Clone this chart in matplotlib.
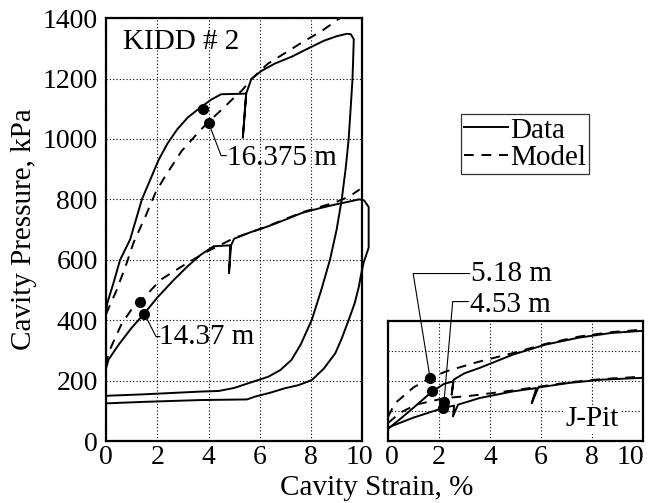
import matplotlib
matplotlib.use("Agg")
import matplotlib.pyplot as plt
import matplotlib.transforms as mtransforms

plt.rcParams['font.family'] = ['Liberation Serif', 'DejaVu Serif']

# KIDD # 2, 16.375 m
k16_data_x = [0, 0.05, 0.29, 0.55, 0.94, 1.4, 1.7, 2.06, 2.4, 2.78, 3.2, 3.7, 4.1, 4.49, 5.47,
              5.34, 5.47, 5.67, 6.06, 6.6, 7.24, 7.9, 8.5, 9.0, 9.4, 9.55, 9.67, 9.62, 9.47,
              9.35, 9.2, 9.0, 8.74, 8.4, 8.03, 7.6, 7.24, 6.8, 6.33, 5.93, 5.0, 4.4, 3.7, 1.5, 0]
k16_data_y = [420, 457, 523, 600, 667, 800, 860, 932, 985, 1032, 1072, 1105, 1130, 1148, 1150,
              1005, 1150, 1198, 1225, 1250, 1272, 1300, 1325, 1340, 1348, 1347, 1330, 1198, 1000,
              900, 800, 700, 600, 500, 401, 320, 269, 235, 213, 202, 176, 166, 164, 155, 150]
k16_model_x = [0, 0.42, 0.81, 1.07, 1.54, 1.93, 2.26, 2.95, 3.5, 3.96, 4.49, 5.0, 5.3, 5.67,
               6.33, 7.0, 7.64, 8.43, 9.08, 9.3]
k16_model_y = [420, 501, 590, 656, 744, 822, 870, 960, 1012, 1054, 1095, 1137, 1160, 1198,
               1250, 1285, 1319, 1358, 1397, 1410]

# KIDD # 2, 14.37 m
k14_data_x = [0, 0.1, 0.5, 1.0, 1.47, 2.0, 2.65, 3.2, 3.7, 4.2, 4.85, 4.8, 4.88, 5.0, 5.6, 6.33,
              7.0, 7.64, 8.3, 8.94, 9.5, 9.87, 10.07, 10.25, 10.25, 10.05, 9.95, 9.87, 9.7, 9.47,
              9.2, 8.95, 8.5, 8.03, 7.5, 6.98, 6.4, 5.8, 5.5, 3.7, 1.5, 0]
k14_data_y = [240, 270, 320, 375, 420, 475, 534, 580, 617, 645, 648, 556, 648, 670, 690, 711,
              733, 755, 770, 783, 793, 800, 797, 775, 640, 590, 550, 512, 455, 401, 340, 291,
              240, 202, 185, 175, 160, 147, 138, 136, 130, 125]
k14_model_x = [0, 0.09, 0.29, 0.62, 1.08, 1.34, 2.13, 3.18, 4.0, 5.0, 6.33, 7.64, 8.94, 9.5, 9.9]
k14_model_y = [250, 290, 329, 390, 446, 462, 534, 590, 630, 672, 712, 757, 790, 810, 833]

# J-Pit, 5.18 m and 4.53 m
jp518_data_x = [0, 0.5, 0.99, 1.74, 2.2, 2.56, 2.5, 2.58, 3.0, 3.6, 4.9, 6.17, 7.47, 8.77, 10]
jp518_data_y = [40, 75, 110, 165, 190, 198, 154, 204, 225, 243, 287, 320, 343, 359, 366]
jp518_model_x = [0, 0.27, 1.0, 1.65, 2.3, 3.5, 4.9, 6.2, 7.5, 8.8, 10]
jp518_model_y = [80, 125, 178, 210, 232, 262, 292, 323, 347, 362, 370]

jp453_data_x = [0, 1.0, 2.17, 2.6, 2.55, 2.75, 3.6, 4.9, 5.82, 5.64, 5.9, 7.1, 8.4, 10]
jp453_data_y = [45, 78, 110, 118, 82, 121, 143, 165, 176, 126, 178, 193, 204, 210]
jp453_model_x = [0, 0.5, 1.1, 2.24, 3.2, 4.9, 7.1, 8.4, 10]
jp453_model_y = [60, 95, 121, 143, 150, 168, 195, 206, 214]

# marked points: (data, model)
k16_pts = [(3.78, 1100), (4.0, 1054)]
k14_pts = [(1.5, 421), (1.34, 462)]
jp518_pts = [(1.74, 165), (1.65, 210)]
jp453_pts = [(2.17, 110), (2.2, 131)]

ticks = [0, 2, 4, 6, 8, 10]
y_ticks = [0, 200, 400, 600, 800, 1000, 1200, 1400]

fig = plt.figure(figsize=(6.52, 5.03), dpi=100)
ax = fig.add_axes([0.1626, 0.123, 0.393, 0.841])
ax2 = fig.add_axes([0.595, 0.123, 0.391, 0.2397])

lw = 1.4
dash = (0, (5, 4))


def style(a, ymax, yt):
    a.set_xlim(0, 10)
    a.set_ylim(0, ymax)
    a.set_xticks(ticks)
    a.set_yticks(yt)
    a.grid(True, color='black', linestyle=(0, (1, 2)), linewidth=0.8)
    a.tick_params(length=0, labelsize=20, pad=6)
    a.tick_params(axis='x', pad=3)
    for s in a.spines.values():
        s.set_linewidth(1.6)


style(ax, 1400, y_ticks)
style(ax2, 400, [100, 200, 300])
ax2.set_yticklabels([])

ax.plot(k16_data_x, k16_data_y, color='black', lw=lw, label='Data')
ax.plot(k16_model_x, k16_model_y, color='black', lw=lw, linestyle=dash, label='Model')
ax.plot(k14_data_x, k14_data_y, color='black', lw=lw, clip_on=False)
ax.plot(k14_model_x, k14_model_y, color='black', lw=lw, linestyle=dash)

ax2.plot(jp518_data_x, jp518_data_y, color='black', lw=lw)
ax2.plot(jp518_model_x, jp518_model_y, color='black', lw=lw, linestyle=dash)
ax2.plot(jp453_data_x, jp453_data_y, color='black', lw=lw)
ax2.plot(jp453_model_x, jp453_model_y, color='black', lw=lw, linestyle=dash)

for a, pts in [(ax, k16_pts), (ax, k14_pts), (ax2, jp518_pts), (ax2, jp453_pts)]:
    a.plot([p[0] for p in pts], [p[1] for p in pts], 'o', color='black', ms=7, zorder=5)

# leaders and labels
ax.plot([4.0, 4.49, 4.69], [1054, 945, 945], color='black', lw=0.8)
ax.text(4.72, 938, '16.375 m', fontsize=21, va='center', ha='left')
ax.plot([1.5, 1.95, 2.1], [421, 346, 346], color='black', lw=0.8)
ax.text(2.08, 345, '14.37 m', fontsize=21, va='center', ha='left')
ax.text(0.65, 1320, 'KIDD # 2', fontsize=21, va='center', ha='left')

ax2.plot([1.65, 0.99, 3.2], [210, 556, 556], color='black', lw=0.8, clip_on=False)
ax2.text(3.25, 555, '5.18 m', fontsize=21, va='center', ha='left')
ax2.plot([2.2, 2.54, 3.15], [131, 463, 463], color='black', lw=0.8, clip_on=False)
ax2.text(3.2, 452, '4.53 m', fontsize=21, va='center', ha='left')
ax2.text(8.0, 72, 'J-Pit', fontsize=21, va='center', ha='center',
         bbox=dict(facecolor='white', edgecolor='none', pad=1))


def nudge(label, dx):
    label.set_transform(label.get_transform() +
                        mtransforms.ScaledTranslation(dx / 72, 0, fig.dpi_scale_trans))


# keep "10" and "0" apart where the two panels meet, and the last "10" inside the figure
nudge(ax.get_xticklabels()[-1], -2)
nudge(ax2.get_xticklabels()[0], 3)
nudge(ax2.get_xticklabels()[-1], -9)

ax.set_ylabel('Cavity Pressure, kPa', fontsize=21, labelpad=4)
fig.text(0.578, 0.004, 'Cavity Strain, %', fontsize=21, ha='center', va='bottom')

leg = fig.legend(loc='upper left', bbox_to_anchor=(0.707, 0.773), fontsize=21,
                 frameon=True, fancybox=False, edgecolor='black', handlelength=1.5,
                 handletextpad=0.1, borderpad=0.1, labelspacing=0.05, borderaxespad=0)
leg.get_frame().set_linewidth(0.9)

fig.savefig('out.png', dpi=100)
